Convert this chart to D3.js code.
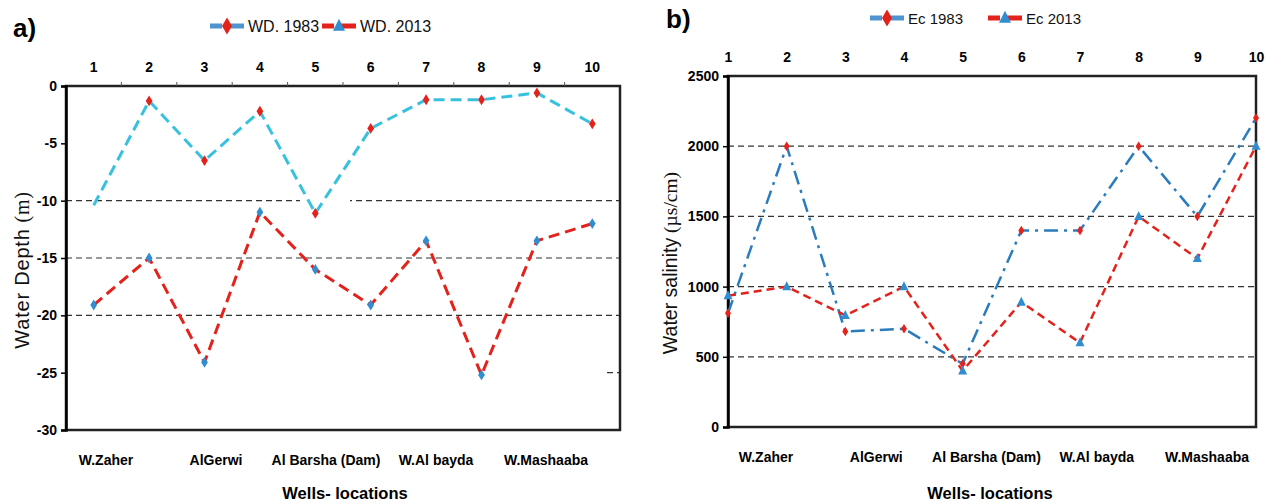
<!doctype html>
<html>
  <head>
    <title>Wells depth and salinity</title>
    <style>
      * { margin: 0; padding: 0; }
      body { background: #fff; }
      svg { display: block; }
      .tick text, .lbl { font-family: "Liberation Sans Narrow", "Arial Narrow", "Liberation Sans", Arial, sans-serif; font-weight: bold; fill: #000; }
    </style>
    <script src="https://cdnjs.cloudflare.com/ajax/libs/d3/7.8.5/d3.min.js"></script>
  </head>
  <body>
    <script>
      // wells 1..10 and their location names
      var categories = [1, 2, 3, 4, 5, 6, 7, 8, 9, 10];
      var locations = ["W.Zaher", "AlGerwi", "Al Barsha (Dam)", "W.Al bayda", "W.Mashaaba"];

      // water depth (m)
      var wd1983 = [-10.4, -1.3, -6.5, -2.2, -11.1, -3.7, -1.2, -1.2, -0.6, -3.3];
      var wd2013 = [-19.1, -15.0, -24.1, -11.0, -16.0, -19.1, -13.5, -25.2, -13.5, -12.0];
      var wdTicks = [0, -5, -10, -15, -20, -25, -30];
      var wdGrid = [-10, -15, -20];

      // salinity (us/cm)
      var ec1983 = [810, 2000, 680, 700, 450, 1400, 1400, 2000, 1500, 2200];
      var ec2013 = [935, 1000, 795, 1000, 400, 890, 600, 1500, 1200, 2000];
      var ecTicks = [0, 500, 1000, 1500, 2000, 2500];
      var ecGrid = [500, 1000, 1500, 2000];

      var RED = "#e3221b", CYAN = "#38c1df", BLUE = "#2f8dd0", STEEL = "#2b7cbd";

      var svg = d3.select("body").append("svg").attr("width", 1266).attr("height", 504);

      function diamond(g, x, y, w, h, col) {
        g.append("path")
          .attr("d", "M" + x + "," + (y - h / 2) + "L" + (x + w / 2) + "," + y + "L" + x + "," + (y + h / 2) + "L" + (x - w / 2) + "," + y + "Z")
          .attr("fill", col);
      }
      function triangle(g, x, y, s, col) {
        g.append("path")
          .attr("d", "M" + x + "," + (y - s * 0.6) + "L" + (x + s / 2) + "," + (y + s * 0.4) + "L" + (x - s / 2) + "," + (y + s * 0.4) + "Z")
          .attr("fill", col);
      }

      function drawPanel(c) {
        var g = svg.append("g");
        var W = c.right - c.left, H = c.bottom - c.top;
        var x;
        if (c.band) {
          x = d3.scaleBand().domain(categories).range([c.left, c.right]);
        } else {
          x = d3.scalePoint().domain(categories).range([c.left, c.right]);
        }
        var xc = function (d) { return x(d) + (c.band ? x.bandwidth() / 2 : 0); };
        var y = d3.scaleLinear().domain(c.yDomain).range([c.bottom, c.top]);

        // grid lines
        g.selectAll(".grid").data(c.grid).enter().append("line")
          .attr("x1", c.left).attr("x2", c.right)
          .attr("y1", function (d) { return y(d); }).attr("y2", function (d) { return y(d); })
          .attr("stroke", "#333").attr("stroke-width", 1.2).attr("stroke-dasharray", "6,4");
        if (c.extra) c.extra(g, x, y);

        // frame
        g.append("rect").attr("x", c.left).attr("y", c.top).attr("width", W).attr("height", H)
          .attr("fill", "none").attr("stroke", "#222").attr("stroke-width", 2.5);

        // axes
        var ya = g.append("g").attr("transform", "translate(" + c.left + ",0)")
          .call(d3.axisLeft(y).tickValues(c.ticks).tickSize(5).tickPadding(4).tickFormat(function (d) { return String(d); }));
        ya.select(".domain").attr("stroke-width", 2.5);
        ya.selectAll(".tick line").attr("stroke-width", 1.5);
        ya.selectAll("text").attr("font-size", 14);

        var xa = g.append("g").attr("transform", "translate(0," + c.top + ")")
          .call(d3.axisTop(x).tickSize(0).tickPadding(c.topPad));
        xa.select(".domain").remove();
        xa.selectAll("text").attr("font-size", 14);
        if (c.band) {
          g.selectAll(".btick").data(categories.slice(1)).enter().append("line")
            .attr("x1", function (d) { return x(d); }).attr("x2", function (d) { return x(d); })
            .attr("y1", c.top).attr("y2", c.top - 4).attr("stroke", "#555").attr("stroke-width", 1);
        }

        // location names below the plot
        var loc = d3.scalePoint().domain(locations).range(c.locRange);
        g.selectAll(".loc").data(locations).enter().append("text").attr("class", "lbl")
          .attr("x", function (d) { return loc(d); }).attr("y", c.bottom + 35)
          .attr("text-anchor", "middle").attr("font-size", 14).text(function (d) { return d; });

        g.append("text").attr("class", "lbl").attr("x", c.xTitleX).attr("y", 499)
          .attr("text-anchor", "middle").attr("font-size", 16.5).text("Wells- locations");

        var yt = g.append("text").attr("transform", "translate(" + c.yTitleX + "," + c.yTitleY + ") rotate(-90)")
          .attr("text-anchor", "middle").attr("font-size", c.yTitleSize).attr("letter-spacing", c.yTitleSpacing)
          .attr("font-family", "Liberation Sans, Arial, sans-serif").attr("fill", "#111");
        yt.append("tspan").text(c.yTitle[0]);
        yt.append("tspan").attr("font-family", "Liberation Serif, Times New Roman, serif").text(" " + c.yTitle[1]);

        g.append("text").attr("class", "lbl").attr("x", c.panelX).attr("y", c.panelY)
          .attr("font-size", 26).text(c.panel);

        // series
        c.series.forEach(function (s) {
          var line = d3.line().x(function (d, i) { return xc(categories[i]); }).y(function (d) { return y(d); });
          g.append("path").datum(s.values).attr("d", line).attr("fill", "none")
            .attr("stroke", s.color).attr("stroke-width", s.width).attr("stroke-dasharray", s.dash);
          s.values.forEach(function (v, i) {
            if (s.skip && s.skip.indexOf(i) >= 0) return;
            if (s.marker === "tri") triangle(g, xc(categories[i]), y(v), s.msize, s.mcolor);
            else diamond(g, xc(categories[i]), y(v), s.msize * 0.75, s.msize * 1.2, s.mcolor);
          });
        });

        // legend
        var lx = c.legendX;
        c.series.forEach(function (s, k) {
          var lg = g.append("g").attr("transform", "translate(" + lx[k] + "," + c.legendY + ")");
          lg.append("line").attr("x1", 0).attr("x2", 34).attr("y1", 0).attr("y2", 0)
            .attr("stroke", s.legendColor).attr("stroke-width", 5).attr("stroke-dasharray", "12,4,18");
          if (s.legendMarker === "tri") triangle(lg, 17, 0, 12, BLUE);
          else diamond(lg, 17, 0, 10, 17, RED);
          lg.append("text").attr("x", 38).attr("y", 6).attr("font-size", c.legendFont)
            .attr("font-family", "Liberation Sans Narrow, Arial Narrow, Liberation Sans, sans-serif")
            .attr("fill", "#111").text(s.name);
        });
      }

      drawPanel({
        left: 66, right: 620, top: 86, bottom: 430, band: true, topPad: 14,
        yDomain: [-30, 0], ticks: wdTicks, grid: wdGrid,
        extra: function (g, x, y) {
          // white break in -10 line and short piece of -25 line
          g.append("rect").attr("x", 300).attr("y", y(-10) - 2).attr("width", 50).attr("height", 4).attr("fill", "#fff");
          g.append("line").attr("x1", 607).attr("x2", 620).attr("y1", y(-25)).attr("y2", y(-25))
            .attr("stroke", "#333").attr("stroke-width", 1.2).attr("stroke-dasharray", "6,4");
        },
        locRange: [106, 546], xTitleX: 345, yTitleX: 29, yTitleY: 270,
        yTitle: ["Water Depth", "(m)"], yTitleSize: 20, yTitleSpacing: 0.8,
        panel: "a)", panelX: 13, panelY: 37,
        legendX: [210, 322], legendY: 26, legendFont: 16,
        series: [
          { name: "WD. 1983", values: wd1983, color: CYAN, width: 3, dash: "11,6", marker: "dia", msize: 9, mcolor: RED, skip: [0], legendColor: "#4f93cf", legendMarker: "dia" },
          { name: "WD. 2013", values: wd2013, color: RED, width: 3, dash: "11,6", marker: "dia", msize: 9, mcolor: BLUE, legendColor: RED, legendMarker: "tri" }
        ]
      });

      drawPanel({
        left: 728, right: 1256, top: 76, bottom: 427, band: false, topPad: 14,
        yDomain: [0, 2500], ticks: ecTicks, grid: ecGrid,
        locRange: [766, 1207], xTitleX: 990, yTitleX: 677, yTitleY: 263,
        yTitle: ["Water salinity", "(\u00b5s/cm)"], yTitleSize: 19.5, yTitleSpacing: 0,
        panel: "b)", panelX: 666, panelY: 28,
        legendX: [870, 988], legendY: 18, legendFont: 15,
        series: [
          { name: "Ec 1983", values: ec1983, color: STEEL, width: 2.5, dash: "14,6,3,6", marker: "dia", msize: 8, mcolor: RED, legendColor: "#4f93cf", legendMarker: "dia" },
          { name: "Ec 2013", values: ec2013, color: RED, width: 2.5, dash: "8,5", marker: "tri", msize: 9, mcolor: BLUE, legendColor: RED, legendMarker: "tri" }
        ]
      });
    </script>
  </body>
</html>
